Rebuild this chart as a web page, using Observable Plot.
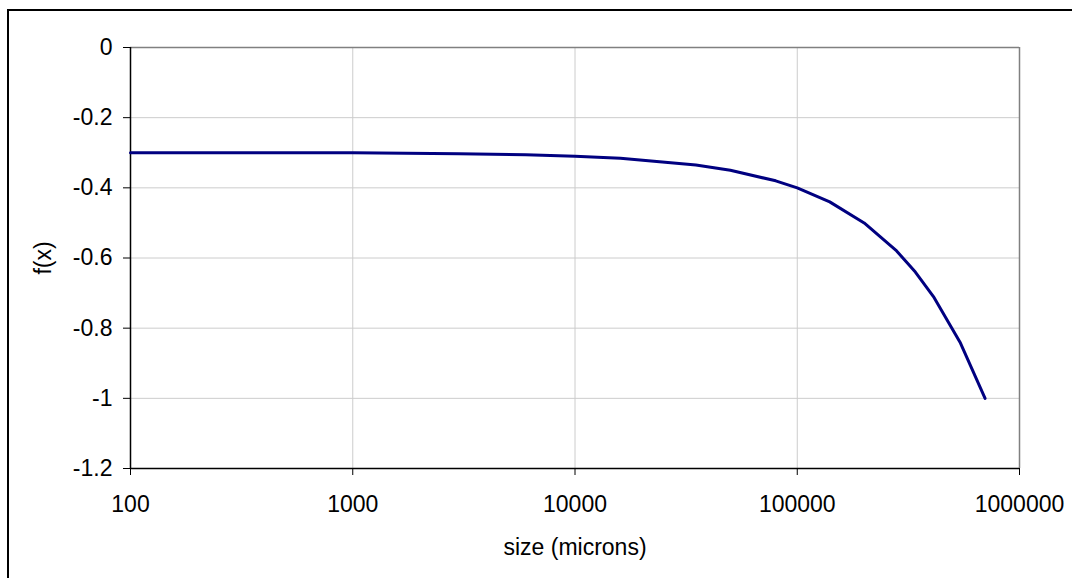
<!DOCTYPE html>
<html>
<head>
<meta charset="utf-8">
<script src="https://cdn.jsdelivr.net/npm/d3@7"></script>
<script src="https://cdn.jsdelivr.net/npm/@observablehq/plot@0.6"></script>
<style>
  html, body { margin: 0; padding: 0; background: #fff; }
  #wrap { position: relative; width: 1072px; height: 578px; overflow: hidden; }
  #border { position: absolute; left: 7px; top: 9px; width: 1100px; height: 620px; border: 2px solid #000; pointer-events: none; }
</style>
</head>
<body>
<div id="wrap"><div id="border"></div></div>
<script>
// data
const sizes  = [100, 1000, 3000, 6000, 10000, 16000, 35000, 50000, 80000, 100000, 140000, 200000, 280000, 340000, 410000, 540000, 700000];
const values = [-0.30, -0.30, -0.303, -0.306, -0.31, -0.316, -0.335, -0.35, -0.38, -0.40, -0.44, -0.50, -0.58, -0.64, -0.71, -0.84, -1.00];
const xTicks = [100, 1000, 10000, 100000, 1000000];
const yTicks = [-1.2, -1, -0.8, -0.6, -0.4, -0.2, 0];
const xLabel = "size (microns)";
const yLabel = "f(x)";

const data = sizes.map((s, i) => ({size: s, f: values[i]}));
const fmtY = d => d === 0 ? "0" : String(Math.round(d * 10) / 10);

const chart = Plot.plot({
  width: 1072,
  height: 578,
  marginLeft: 130,
  marginRight: 53,
  marginTop: 47,
  marginBottom: 110,
  style: {fontFamily: "'Liberation Sans', Arial, sans-serif", fontSize: "23px", color: "#000", background: "transparent"},
  x: {type: "log", domain: [100, 1000000]},
  y: {domain: [-1.2, 0]},
  marks: [
    Plot.gridX(xTicks, {stroke: "#cccccc", strokeOpacity: 1, strokeWidth: 1}),
    Plot.gridY(yTicks, {stroke: "#cccccc", strokeOpacity: 1, strokeWidth: 1}),
    Plot.ruleY([0], {stroke: "#808080", strokeWidth: 1.5}),
    Plot.ruleX([1000000], {stroke: "#808080", strokeWidth: 1.5}),
    Plot.axisX({ticks: xTicks, tickFormat: d => String(d), tickSize: 7, tickPadding: 20, stroke: "#000",
      label: xLabel, labelAnchor: "center", labelArrow: "none", labelOffset: 86, fontSize: 23}),
    Plot.axisY({ticks: yTicks, tickFormat: fmtY, tickSize: 7, tickPadding: 11, stroke: "#000",
      label: yLabel, labelAnchor: "center", labelArrow: "none", labelOffset: 96, fontSize: 23}),
    Plot.ruleX([100], {stroke: "#000", strokeWidth: 1.5}),
    Plot.ruleY([-1.2], {stroke: "#000", strokeWidth: 1.5}),
    Plot.line(data, {x: "size", y: "f", stroke: "#000080", strokeWidth: 3, curve: "linear"})
  ]
});
document.getElementById("wrap").prepend(chart);
</script>
</body>
</html>
